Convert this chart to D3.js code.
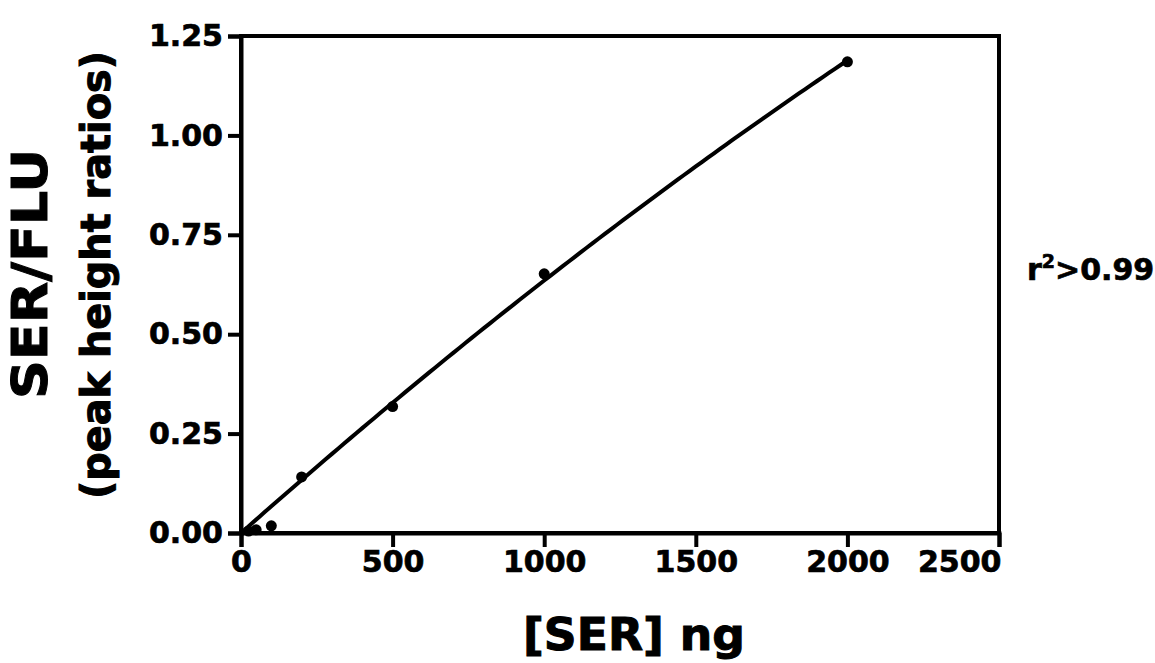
<!DOCTYPE html>
<html>
<head>
<meta charset="utf-8">
<script src="https://cdn.jsdelivr.net/npm/d3@7"></script>
<style>
  html, body { margin: 0; padding: 0; background: #fff; }
  svg { display: block; }
  text { font-family: "DejaVu Sans", "Liberation Sans", sans-serif; font-weight: bold; fill: #000; stroke: #000; stroke-width: 0.7px; }
</style>
</head>
<body>
<svg id="chart" width="1155" height="663"></svg>
<script>
// Calibration standards: amount of SER (ng) vs SER/FLU peak height ratio
const serAmount = [25, 50, 100, 200, 500, 1000, 2000];
const peakRatio = [0.005, 0.008, 0.018, 0.141, 0.318, 0.652, 1.185];

const xTicks = [0, 500, 1000, 1500, 2000, 2500];
const yTicks = [0.00, 0.25, 0.50, 0.75, 1.00, 1.25];

const xTitle = "[SER] ng";
const yTitle1 = "SER/FLU";
const yTitle2 = "(peak height ratios)";

const svg = d3.select("#chart");

const x = d3.scaleLinear().domain([0, 2500]).range([241, 999]);
const y = d3.scaleLinear().domain([0, 1.25]).range([533, 36]);

// Least-squares quadratic through the origin: y = a*x + b*x^2
function quadFitOrigin(xs, ys) {
  const s2 = d3.sum(xs, v => v * v), s3 = d3.sum(xs, v => v ** 3), s4 = d3.sum(xs, v => v ** 4);
  const t1 = d3.sum(xs, (v, i) => v * ys[i]), t2 = d3.sum(xs, (v, i) => v * v * ys[i]);
  const det = s2 * s4 - s3 * s3;
  return [(t1 * s4 - t2 * s3) / det, (s2 * t2 - s3 * t1) / det];
}
const [ca, cb] = quadFitOrigin(serAmount, peakRatio);
const fitPts = d3.range(0, 2000.001, 20).map(v => [v, ca * v + cb * v * v]);

const stroke = 4;

// Frame
svg.append("rect")
  .attr("x", x(0)).attr("y", y(1.25))
  .attr("width", x(2500) - x(0)).attr("height", y(0) - y(1.25))
  .attr("fill", "none").attr("stroke", "#000").attr("stroke-width", stroke);

// Axes
const xAxis = d3.axisBottom(x).tickValues(xTicks).tickFormat(d3.format("d")).tickSize(14).tickPadding(4);
const gx = svg.append("g").attr("transform", `translate(0,${y(0)})`).call(xAxis);
gx.select(".domain").attr("stroke-width", stroke);
gx.selectAll(".tick line").attr("stroke-width", stroke);
gx.selectAll(".tick text").style("font-size", "30px").attr("fill", "#000");
// last label kept inside the frame's right edge
gx.selectAll(".tick text").filter(d => d === 2500).attr("text-anchor", "end").attr("x", 2);

const yAxis = d3.axisLeft(y).tickValues(yTicks).tickFormat(d3.format(".2f")).tickSize(13).tickPadding(5);
const gy = svg.append("g").attr("transform", `translate(${x(0)},0)`).call(yAxis);
gy.select(".domain").attr("stroke-width", stroke);
gy.selectAll(".tick line").attr("stroke-width", stroke);
gy.selectAll(".tick text").style("font-size", "30px").attr("fill", "#000");

// Fit curve
svg.append("path")
  .datum(fitPts)
  .attr("d", d3.line().x(d => x(d[0])).y(d => y(d[1])))
  .attr("fill", "none").attr("stroke", "#000").attr("stroke-width", 4)
  .attr("stroke-linecap", "round");

// Data points
svg.append("g").selectAll("circle")
  .data(serAmount.map((v, i) => [v, peakRatio[i]]))
  .join("circle")
  .attr("cx", d => x(d[0])).attr("cy", d => y(d[1]))
  .attr("r", 5.5).attr("fill", "#000");

// Axis titles
svg.append("text")
  .attr("x", 634).attr("y", 650)
  .attr("text-anchor", "middle")
  .attr("textLength", 222).attr("lengthAdjust", "spacingAndGlyphs")
  .style("font-size", "44px").style("stroke-width", "1px")
  .text(xTitle);

svg.append("text")
  .attr("transform", "translate(47,274) rotate(-90)")
  .attr("text-anchor", "middle")
  .attr("textLength", 250).attr("lengthAdjust", "spacingAndGlyphs")
  .style("font-size", "49px").style("stroke-width", "1px")
  .text(yTitle1);

svg.append("text")
  .attr("transform", "translate(110,275) rotate(-90)")
  .attr("text-anchor", "middle")
  .attr("textLength", 448).attr("lengthAdjust", "spacingAndGlyphs")
  .style("font-size", "40px").style("stroke-width", "1px")
  .text(yTitle2);

// Goodness-of-fit annotation
const r2 = svg.append("text")
  .attr("x", 1027).attr("y", 280)
  .style("font-size", "30px");
r2.append("tspan").text("r");
r2.append("tspan").attr("dy", -12).style("font-size", "19px").text("2");
r2.append("tspan").attr("dy", 12).text(">0.99");
</script>
</body>
</html>
